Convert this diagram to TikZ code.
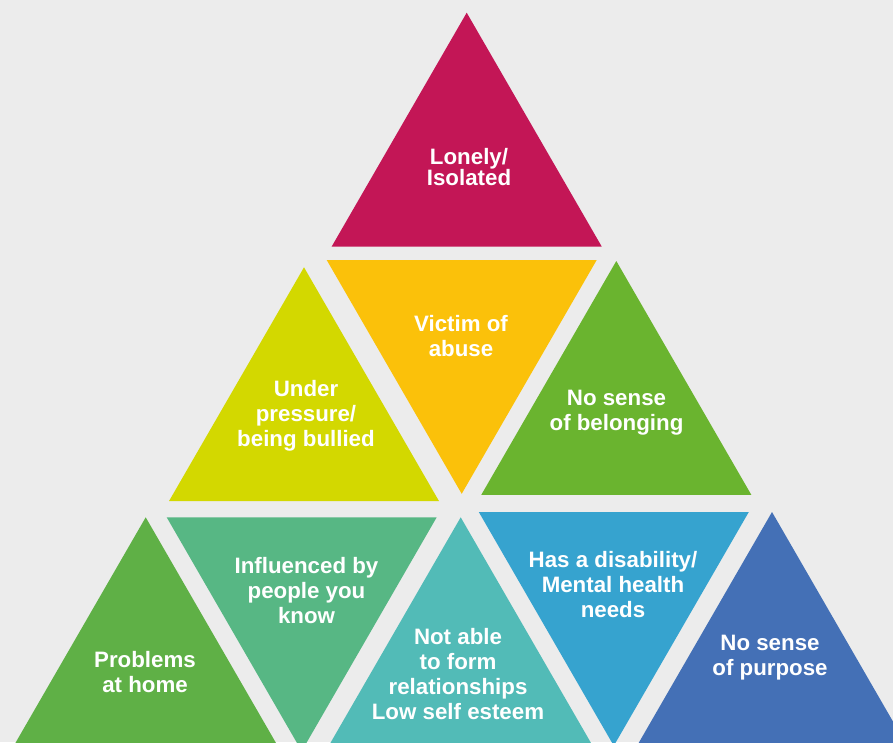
\documentclass[tikz,border=0pt]{standalone}
\usepackage{fontspec}
\setmainfont{Liberation Sans}
\usepackage{tikz}
\usepackage{xcolor}
\definecolor{bgGray}{HTML}{ECECEC}
\definecolor{cMagenta}{HTML}{C31656}
\definecolor{cAmber}{HTML}{FBC10A}
\definecolor{cLime}{HTML}{D3D800}
\definecolor{cGreen}{HTML}{6AB42F}
\definecolor{cLeaf}{HTML}{5FB046}
\definecolor{cSea}{HTML}{57B784}
\definecolor{cTeal}{HTML}{52BBB7}
\definecolor{cSky}{HTML}{36A3CF}
\definecolor{cNavy}{HTML}{4470B6}

\begin{document}
\begin{tikzpicture}[x=1pt, y=-1pt,
    lbl/.style={text=white, font=\bfseries\fontsize{22.3}{25}\selectfont, align=center, inner sep=0pt}]
  \useasboundingbox (0,0) rectangle (893,742);
  \fill[bgGray] (0,0) rectangle (893,742);
  \clip (0,0) rectangle (893,742);
  % triangles pointing up (apex x/apex y/colour)
  \foreach \x/\y/\col in {466.7/12.7/cMagenta, 304/267.3/cLime, 616.3/261/cGreen,
                          145.7/517.3/cLeaf, 460.7/517.3/cTeal, 772/512/cNavy}
    \fill[\col] (\x,\y) -- ++(-135,233.8) -- ++(270,0) -- cycle;
  % triangles pointing down (tip x/top y/colour)
  \foreach \x/\y/\col in {461.7/260/cAmber, 301.7/517.3/cSea, 613.8/512/cSky}
    \fill[\col] (\x-135,\y) -- ++(270,0) -- ++(-135,233.8) -- cycle;
  % labels
  \node[lbl, font=\bfseries\fontsize{22.3}{21}\selectfont] (lonely) at (469,167) {Lonely/\\Isolated};
  \node[lbl] (victim) at (461,336.5) {Victim of\\abuse};
  \node[lbl] (pressure) at (306,416) {Under\\pressure/\\being bullied};
  \node[lbl] (belong) at (616.5,413) {No sense\\of belonging};
  \node[lbl] (home) at (145,672.5) {Problems\\at home};
  \node[lbl] (influence) at (306.5,590.5) {Influenced by\\people you\\know};
  \node[lbl] (relations) at (458,674.5) {Not able\\to form\\relationships\\Low self esteem};
  \node[lbl] (disability) at (613,584.5) {Has a disability/\\Mental health\\needs};
  \node[lbl] (purpose) at (770,657.5) {No sense\\of purpose};
\end{tikzpicture}
\end{document}
